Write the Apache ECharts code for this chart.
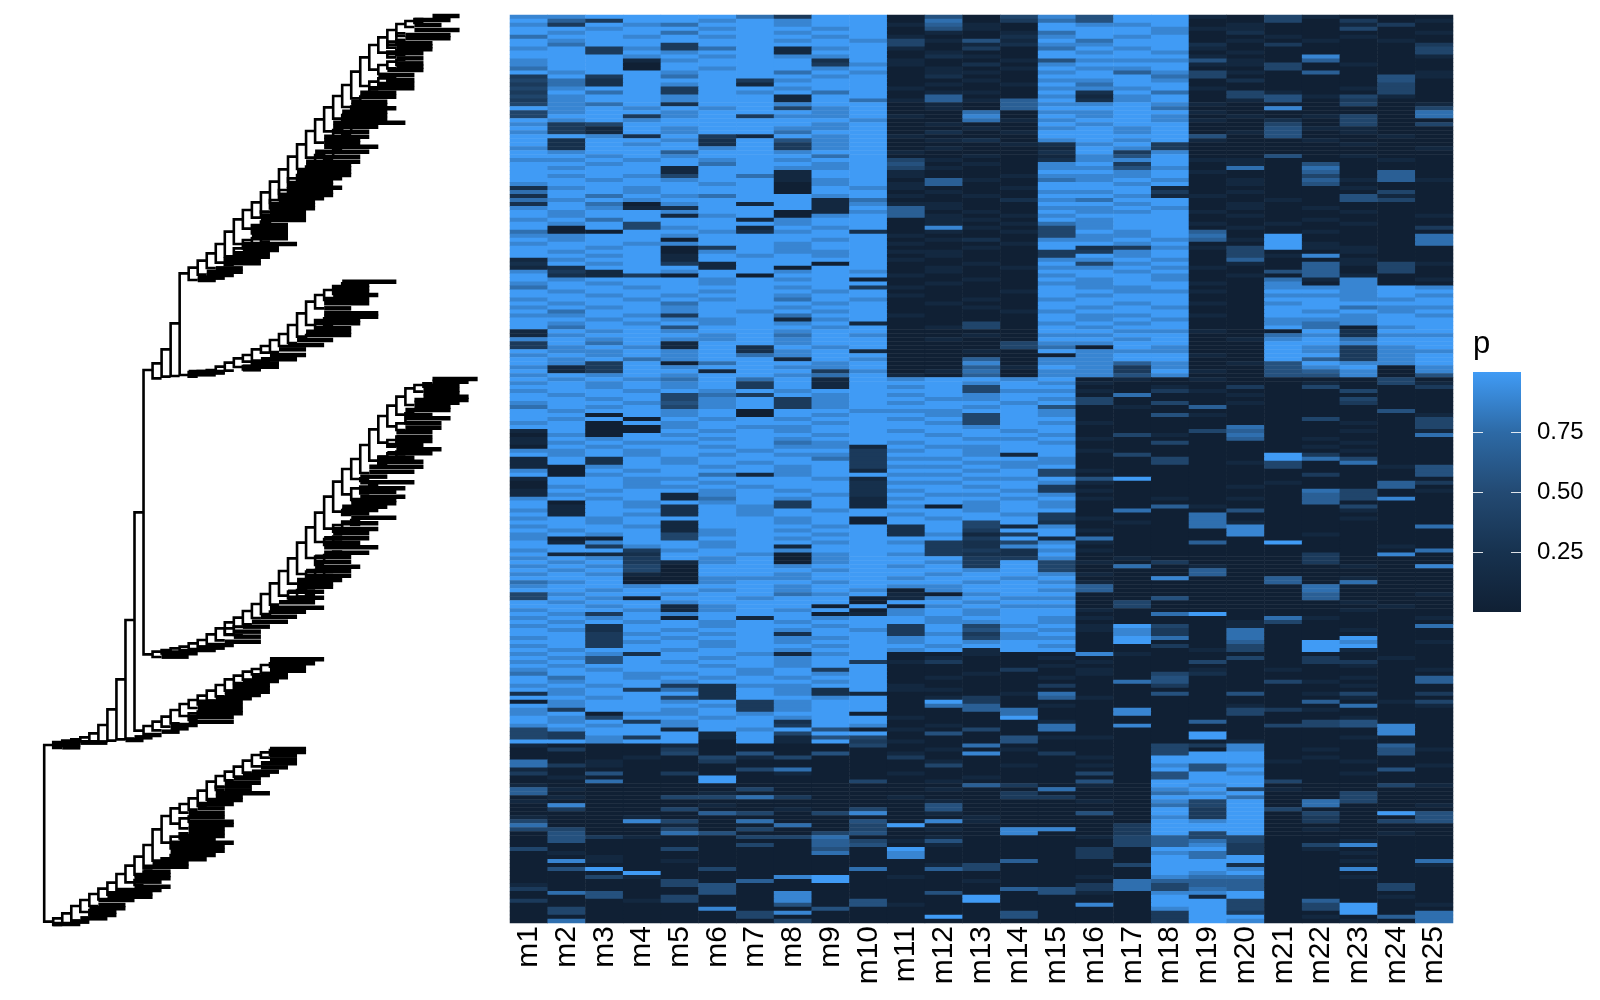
<!DOCTYPE html>
<html><head><meta charset="utf-8">
<style>html,body{margin:0;padding:0;background:#fff}#c{width:1600px;height:1000px}</style>
<script src="https://cdn.jsdelivr.net/npm/echarts@6/dist/echarts.min.js"></script>
</head><body><div id="c"></div>
<script>
const columns=['m1','m2','m3','m4','m5','m6','m7','m8','m9','m10','m11','m12','m13','m14','m15','m16','m17','m18','m19','m20','m21','m22','m23','m24','m25'];
const legendTicks=[0.25,0.5,0.75];
// p per row, one digit per column (0 = p about 0, 9 = p about 1)
const rowsA=[
"8899997399 0504 8599 1041000","9639989899 0703 7599 0040301","8398799899 1610 9889 0100130","9989989989 0510 9998 1100400",
"9899799899 0101 7998 0200001","7998989989 1002 8989 0010100","9899999898 4151 9799 0101010","9799399999 4012 8899 2030003",
"8938379189 1030 7989 1000004","9939899199 0100 9898 0100004","9998989889 0210 9999 1008001","8991899929 1001 5888 5106000",
"8990999938 1020 8999 1140100","7990989989 0101 9889 0040000","9899899798 0110 8968 4106001","3939799989 0200 9997 4000051",
"4729993899 0010 8898 0200050","3729891999 0101 9799 0000040","4899399899 1000 8889 1000140","3979398979 0110 9297 0410040",
"4899899199 0600 8189 0451410","3899899197 1616 9289 0150300","4879299899 0106 8898 1000401","9898989489 0106 9997 0080004",
"4899899989 0070 8899 1000007","4993893889 1080 9898 0101407","9898999998 0071 8998 1020400","8349999989 0100 9899 0040404",
"9319899889 0010 8989 0051100","8319899799 0201 9989 0150100","9982931989 1000 9999 5050010","9299829589 0120 8989 1001000",
"9298929389 0001 2893 0000100","8299989389 0100 1983 0000001","9899699899 1000 2938 0000000","9989899979 0010 1859 0050100",
"8898989899 4100 2889 1100010","9989979989 5010 8939 0105000","9899199889 4100 8858 0707000","9999199199 1000 9989 1006060",
"9898497199 1001 8889 0004060","9989899189 0610 7898 0106161","8999989089 1600 9989 0105000","2898999098 1001 9991 0000100",
"7998999099 0100 8893 0100040","2979879989 1010 9981 1000510","7898999917 0002 8799 0010540","2970891918 1100 9989 0100000",
"8981299919 6100 8898 0101000","9899899018 6010 9889 1000100","9899189089 6101 8999 0100001","8979991899 0110 9899 0001000",
"9894999899 0101 7899 1010100","9094891989 0810 4899 0100003","7009982892 0101 4989 6001000","8899899999 1000 4889 7090007",
"9899099989 0120 8898 6190007","8998899899 1001 9989 0091007","9989039899 0010 9238 1491100","9899089889 1100 3389 0400100",
"9989198989 0100 3989 0418000","1899199999 1000 8898 0600100","2989319909 0010 9489 0106141","1299919099 0101 8898 1006040",
"8319899898 0100 9989 0056040","9213090999 1000 8998 0106100","9899989890 0010 9898 0071801","8989989999 0100 8899 1080800",
"7998999893 1000 9889 0088898"];
const rowsA2=[
"9899989989 0001 9988 1099899","9989899899 1000 9899 0088898","8998989798 0010 8999 0099889","9899799989 0100 9989 1089999",
"8989899899 0010 9898 0099788","9799898989 0001 8999 0098989","8898399799 1000 9889 1099898","9989889189 0000 9898 0088899",
"9898989891 0040 8989 0087899","9799599989 0140 9899 0097089","1989899899 0000 9988 1009299","1899989798 0010 8899 0078288",
"8989889899 0100 9989 0189799","3979199899 0004 8899 0099899","3898192989 0004 7098 0098389","9889892891 0010 9888 0098388",
"8989897899 0000 0899 1099389","9897899198 0060 8899 0096389","9839079989 0080 8868 0159889","8139899889 0061 9838 0058908",
"9139919938 0170 8839 1056808","8989899879 1060 8858 0055805"];
const rowsB=[
"9898797919 8998 9010 1000040","8989893919 9989 8100 0001041","9989893919 8949 9001 0304003","8998989899 9948 8103 1000400",
"9899473989 8989 9070 0100000","9989489389 9889 8400 0000400","8998589389 8998 9404 0100300","7989489389 9989 5010 6000000",
"9899890998 8899 8000 0000050","9909890989 9849 8005 1000001","9890989899 8949 9000 0004004","8909899989 9849 8100 0000104",
"9900898899 9989 9000 0700004","1900989899 8998 9000 4600101","0809899989 9899 8041 0700007","1989989899 9988 9100 0601000",
"1898899789 8999 8004 0000100","0989989881 9889 9000 0001000","8898998993 8989 9100 0000100","9898989883 9981 9040 0093000",
"1929899973 8899 8004 0097400","1929898993 9988 8004 0140700","1089989893 8898 9000 0040015","8098999891 9989 4100 0000005",
"9089971899 8899 4000 0003005","1998899981 9988 9590 0000000","0998989992 8899 8100 0010063","0898898992 9989 3000 0100060",
"1989989892 8998 3100 0007401","1899189982 9889 8000 0006400","8989179891 8998 9101 0106480","9098989391 9989 8000 0006000",
"9198298391 8089 8006 1000400","8199298989 9989 9070 0500100","9198298999 8998 3000 7000000","8989999890 9899 3100 7000100",
"9989199890 9949 2010 7100000","8998199989 2941 8000 7800007","9899189899 2939 9100 0800000","8989489989 2813 9000 0801000",
"8009499899 9939 1700 0000000","9189989989 8324 8100 6090000","9938989199 9328 9000 0000010","8993899899 9332 8100 0000007",
"9112998089 8322 9000 0003080","8983989089 9933 8010 0003000","9893189089 9839 4103 0003000","8984099899 8939 4070 1000108",
"9894099989 9989 4000 6000000","8981099899 9899 8100 6000000","9990088899 8998 9008 0060100","7890089989 9989 8100 0060700",
"8998999899 8899 9600 0007000","9989989898 0899 8600 0007000","4899899789 1089 9000 0006001","4980998990 1898 8005 0006000",
"9899899990 9989 9040 0000100","9989189909 0898 8040 0000010","8998189890 8989 9100 0000100","9839899901 8989 9007 9000000",
"8989091989 9899 8100 0071001","9898989899 9889 8000 0140000","8929989989 3948 9194 0100007","9829899898 3959 8183 0700100",
"9938989299 3838 9083 0700000","8939899889 8948 8097 0700900","9938989899 8989 9090 0609801","8939989989 9899 8003 0409900",
"9899899899 8919 9000 1409100"];
const rowsC=[
"8982998189 0010 0810 0000000","9859989899 0100 1000 0403010","8959899893 1300 0100 4003300","9899989899 0000 1000 0000100",
"8989998939 0003 0100 1010001","7998898989 0010 0104 2000000","9798989899 0100 1005 0000106","9899899989 0000 0075 0041006",
"8989328899 1000 3003 0000100","9893729829 1100 0000 0000000","2899929821 0001 7005 0501403","9989429989 0130 6100 0000100",
"0899893899 0930 0000 0006014","9899983899 0760 1000 0100701","8399893899 0067 0080 0431000","8908898990 0007 0080 0400000",
"9849989899 1009 0000 0000100","9893899299 0000 1000 6004500","8989899398 0100 7080 0044580","4899198950 1040 7000 0000080",
"4399919499 0500 0000 9000080","4383919154 0005 1100 9000100","9989909193 1005 0000 0100000"];
const rowsD=[
"1000100004 0070 0004 3800060","0300300000 0101 0004 0801051","0000405050 1080 3004 9900050","0001041400 3000 0109 9901000",
"7010030000 0100 0009 9910100","7310000000 0401 0108 5800001","1000004700 0000 0009 5900050","3050300100 1000 0405 9800100",
"0100090000 0010 0005 9900000","0070090004 0100 0509 9940000","1000000000 0063 0109 8900041","6100004000 0100 7008 9410000",
"6000010000 0003 0007 8900400","0100447300 1003 3009 9700400","1000000000 0100 0108 4907400","0800010000 0500 0007 4907001",
"0300400104 0500 0009 3940000","0000064048 0100 0509 3904095","1001000000 0010 0008 3903005","4008407005 0810 0009 8903045",
"7000100704 9000 0039 9900000","4400404004 0108 8039 9901000","0500750045 0008 0039 4900010","0531004470 0100 0146 4400000",
"0500000064 1500 0046 7400100","0000004065 0100 0046 8304800","4000400050 9000 0309 9301000","0100000070 8000 0308 7300100",
"0010000000 8000 0309 7900000","0810100000 0006 0009 9900107","0000000000 0140 0049 9200001","0590040007 0640 0009 9800800",
"0009000000 0000 0009 8900000","0041000890 1000 0108 7700100","0000406090 0010 0076 6600000","1000450000 0000 0374 6600040",
"3000050000 0006 5374 7600040","0750050800 0500 5108 8900000","0050400800 0090 0009 1900010","3001400805 0090 0009 9406000",
"0000000505 1000 0809 9404901","0400080050 0000 0008 9404900","0400004800 0005 0003 9300907","0000004000 0905 0003 9901067",
"0700000400 0000 0003 9800107"];
// dendrogram: merges are [depth, upper leaf position, lower leaf position]
const mergesRoot=[[0,2235,2765],[1,2226,2244],[2,2222,2230],[3,2218,2226],[4,2212,2224],[5,2200,2224],[6,2175,2225],[7,2128,2222],[8,2038,2218],[9,1860,2216],[10,1537,2192],[11,1110,1963],[12,1090,1135],[13,1048,1130],[14,970,1128],[15,820,1125]];
const merges1=[[16,803,840],[17,782,824],[18,760,804],[19,732,788],[20,695,769],[21,658,732],[22,630,686],[23,607,653],[24,577,637],[25,545,609],[26,508,582],[27,470,546],[28,433,507],[29,393,473],[30,358,428],[31,322,394],[32,288,356],[33,255,321],[34,215,295],[35,172,258],[36,135,209],[37,112,158],[38,90,134],[39,72,108],[40,63,81],[41,57,69],
[39,100,120],[38,125,143],[39,120,135],[38,155,172],[39,150,165],[37,195,222],[38,185,205],[39,180,195],[36,245,275],[37,235,255],[38,230,245],[35,290,325],[34,320,340],[33,345,360],[34,340,352],[32,390,430],[33,380,405],[34,375,395],[30,465,490],[31,455,480],[32,450,470],[29,500,520],[27,535,560],[28,525,550],[29,520,540],[26,570,600],[25,600,625],[27,565,590],[24,635,650],[23,675,700],[24,665,690],[25,660,680],[22,720,745],[23,715,735],[24,710,725],[21,745,770],[20,775,795]];
const merges2=[[16,1116,1130],[17,1113,1120],[18,1110,1116],[19,1100,1120],[20,1088,1112],[21,1075,1101],[22,1065,1085],[23,1048,1082],[24,1038,1058],[25,1020,1056],[26,1002,1038],[27,975,1029],[28,940,1010],[29,905,975],[30,885,925],[31,870,900],[32,858,882],[33,850,866],
[30,960,990],[31,955,975],[32,950,965],[29,1005,1020],[23,1090,1108],[22,1098,1108],[24,1085,1100]];
const merges3=[[12,1955,1971],[13,1950,1960],[14,1945,1955],[15,1940,1950],[16,1930,1950],[17,1920,1940],[18,1903,1937],[19,1885,1921],[20,1867,1903],[21,1853,1881],[22,1833,1873],[23,1812,1854],[24,1782,1842],[25,1750,1814],[26,1713,1787],[27,1675,1751],[28,1628,1722],[29,1582,1674],[30,1538,1626],[31,1490,1586],[32,1445,1535],[33,1407,1483],[34,1377,1437],[35,1335,1419],[36,1288,1382],[37,1248,1328],[38,1217,1279],[39,1190,1244],[40,1165,1215],[41,1155,1175],[42,1150,1160],
[39,1270,1290],[40,1240,1270],[38,1320,1340],[39,1310,1330],[37,1370,1395],[38,1360,1385],[39,1355,1370],[35,1435,1443],[34,1465,1500],[35,1460,1480],[36,1455,1470],[33,1530,1545],[34,1525,1540],[32,1575,1595],[33,1565,1585],[34,1560,1575],[31,1617,1635],[32,1610,1625],[30,1670,1695],[31,1665,1685],[32,1655,1670],[29,1715,1745],[30,1710,1735],[31,1700,1725],[27,1775,1795],[28,1770,1790],[29,1765,1785],[25,1835,1850],[20,1885,1905],[21,1880,1905]];
const merges4=[[11,2178,2206],[12,2165,2191],[13,2150,2180],[14,2130,2170],[15,2112,2148],[16,2100,2124],[17,2087,2113],[18,2072,2102],[19,2055,2089],[20,2038,2072],[21,2027,2049],[22,2015,2039],[23,2007,2023],[24,1995,2019],[25,1990,2000],
[16,2140,2160],[17,2135,2150],[21,2055,2075],[22,2050,2065]];
const merges5=[[1,2755,2775],[2,2740,2770],[3,2718,2762],[4,2700,2736],[5,2682,2718],[6,2666,2698],[7,2648,2684],[8,2622,2674],[9,2597,2647],[10,2570,2624],[11,2535,2605],[12,2488,2582],[13,2448,2528],[14,2425,2471],[15,2412,2438],[16,2395,2429],[17,2372,2418],[18,2345,2399],[19,2328,2362],[20,2315,2341],[21,2300,2330],[22,2282,2318],[23,2265,2299],[24,2257,2273],[25,2250,2264],
[14,2510,2545],[15,2500,2515],[15,2535,2550],[13,2575,2590],[14,2565,2585],[15,2455,2485],[16,2450,2465],[11,2615,2635],[10,2640,2655],[5,2730,2745],[6,2725,2740],[19,2360,2370]];
// dense leaf runs: [leaf position, from depth, to depth]
const leaves1=[[48,43,46],[60,41,45],[75,41,44],[90,41,46],[105,40,45],[115,40,45],[130,39,43],[139,39,43],[148,39,43],[160,38,42],[175,39,42],[190,39,42],[200,39,42],[210,38,42],[225,37,41],[240,38,41],[252,37,41],[265,36,41],[278,35,39],[290,35,39],[305,34,38],[315,34,38],[325,34,39],[335,33,38],[345,33,38],[357,33,38],[368,32,40],[380,32,37],[395,32,36],[410,31,36],[420,31,35],[430,31,35],[440,31,37],[455,30,36],[470,30,35],[485,29,35],[495,29,34],[505,29,34],[515,28,34],[525,28,34],[535,28,33],[545,28,32],[554,27,32],[563,27,33],[575,27,32],[585,26,32],[595,26,31],[605,26,30],[615,25,30],[625,25,30],[635,25,29],[648,24,29],[660,24,29],[675,24,27],[685,23,27],[695,23,27],[705,23,27],[715,23,27],[732,22,28],[741,22,26],[750,22,26],[760,21,25],[770,21,25],[780,20,24],[790,20,24],[805,19,22],[815,18,22],[825,18,21],[833,17,20],[840,17,19]];
const leaves2=[[845,33,39],[855,33,36],[865,32,36],[875,32,36],[885,32,37],[897,31,36],[910,31,36],[925,31,34],[940,31,37],[950,31,37],[960,31,35],[970,30,35],[985,30,34],[995,29,34],[1005,29,34],[1020,28,32],[1035,27,31],[1048,26,29],[1065,25,29],[1078,24,28],[1090,23,26],[1100,22,26],[1108,22,24],[1116,16,20],[1123,16,19]];
const leaves3=[[1137,43,48],[1145,43,47],[1157,42,46],[1170,42,46],[1180,42,46],[1190,42,47],[1200,41,47],[1208,41,46],[1220,41,45],[1230,40,45],[1245,40,43],[1255,40,45],[1270,40,44],[1283,40,44],[1295,39,43],[1310,39,43],[1323,39,43],[1335,38,42],[1348,39,44],[1360,38,43],[1373,37,41],[1385,37,42],[1400,36,42],[1415,36,41],[1430,35,38],[1447,35,41],[1465,35,40],[1475,35,39],[1490,35,40],[1500,34,39],[1510,34,39],[1520,33,38],[1530,33,37],[1540,33,36],[1553,34,39],[1570,33,37],[1587,32,37],[1600,32,36],[1615,31,36],[1628,31,35],[1642,31,37],[1658,31,36],[1670,30,34],[1685,30,34],[1700,30,35],[1713,29,34],[1727,29,34],[1740,28,33],[1750,28,32],[1760,28,32],[1775,27,31],[1793,27,31],[1807,26,30],[1823,25,31],[1835,25,29],[1850,24,28],[1865,23,27],[1880,22,25],[1895,21,24],[1910,21,24],[1925,20,24],[1935,18,21],[1943,17,20],[1950,16,19],[1960,13,17],[1970,13,16]];
const leaves4=[[1978,25,31],[1990,25,30],[2000,25,29],[2012,25,29],[2022,24,27],[2032,23,27],[2043,22,26],[2055,21,25],[2065,21,25],[2075,20,25],[2085,20,24],[2095,19,23],[2105,17,22],[2118,17,22],[2130,17,22],[2140,17,22],[2150,16,21],[2165,16,21],[2175,14,17],[2185,14,16],[2195,13,15],[2205,11,13],[2212,10,12],[2220,9,11],[2228,4,7],[2235,1,4],[2242,2,4]];
const leaves5=[[2247,25,29],[2256,25,29],[2265,25,28],[2278,25,28],[2290,24,28],[2302,24,27],[2315,23,26],[2325,22,25],[2335,21,24],[2348,20,24],[2360,20,23],[2372,20,23],[2380,19,25],[2390,19,22],[2400,18,22],[2412,17,21],[2425,17,20],[2440,16,20],[2452,16,20],[2465,16,21],[2475,16,21],[2485,16,20],[2497,16,20],[2508,15,20],[2518,15,19],[2528,14,21],[2540,14,20],[2552,14,20],[2565,14,19],[2578,13,18],[2590,12,16],[2600,11,16],[2615,11,14],[2625,10,14],[2635,10,14],[2645,10,13],[2660,10,14],[2670,8,13],[2680,7,12],[2690,7,12],[2700,6,10],[2715,6,9],[2725,5,9],[2735,5,8],[2745,5,8],[2755,4,7],[2765,3,5],[2772,1,4]];

const rows=[].concat(rowsA,rowsA2,rowsB,rowsC,rowsD);
const rowIds=rows.map((_,i)=>i);
const heat=[];
rows.forEach((r,y)=>{const s=r.replace(/ /g,'');columns.forEach((_,x)=>{heat.push([x,y,Number(s[x]||0)/9]);});});
const merges=[].concat(mergesRoot,merges1,merges2,merges3,merges4,merges5);
const leaves=[].concat(leaves1,leaves2,leaves3,leaves4,leaves5);
const mergeLines=merges.map(m=>({coords:[[m[0]+1,m[1]],[m[0],m[1]],[m[0],m[2]],[m[0]+1,m[2]]]}));
const leafLines=leaves.map(l=>({coords:[[l[1],l[0]],[l[2],l[0]]]}));

const font='"Liberation Sans",Arial,Helvetica,sans-serif';
const ramp=['#102034','#17324f','#234a73','#2d6aa6','#409bf5'];
const chart=echarts.init(document.getElementById('c'),null,{renderer:'canvas',width:1600,height:1000});
chart.setOption({
 animation:false,backgroundColor:'#fff',
 title:{text:'p',left:1473,top:329,padding:0,textStyle:{fontFamily:font,fontSize:31,fontWeight:'normal',color:'#000'}},
 graphic:[{type:'rect',z:1,silent:true,shape:{x:1473,y:372,width:48,height:240},
  style:{fill:new echarts.graphic.LinearGradient(0,1,0,0,ramp.map((c,i)=>({offset:i/(ramp.length-1),color:c})))}}],
 grid:[
  {left:510,top:15,width:943,height:908,outerBoundsMode:'none'},
  {left:44.2,top:0,width:451.5,height:1000,outerBoundsMode:'none'},
  {left:1473,top:372,width:48,height:240,outerBoundsMode:'none',z:20}
 ],
 xAxis:[
  {gridIndex:0,type:'category',data:columns,position:'bottom',axisLine:{show:false},splitLine:{show:false},
   axisTick:{alignWithLabel:true,length:2,lineStyle:{color:'#333'}},
   axisLabel:{interval:0,rotate:90,margin:3,fontFamily:font,fontSize:30,color:'#000'}},
  {gridIndex:1,type:'value',min:0,max:50,show:false},
  {gridIndex:2,type:'value',min:0,max:1,show:false}
 ],
 yAxis:[
  {gridIndex:0,type:'category',data:rowIds,inverse:true,show:false},
  {gridIndex:1,type:'value',min:0,max:3000,inverse:true,show:false},
  {gridIndex:2,type:'value',min:0,max:1,position:'left',z:20,axisLine:{show:false},splitLine:{show:false},axisLabel:{show:false},
   axisTick:{show:true,inside:true,length:10,customValues:legendTicks,lineStyle:{color:'rgba(255,255,255,0.85)',width:1}}},
  {gridIndex:2,type:'value',min:0,max:1,position:'right',z:20,axisLine:{show:false},splitLine:{show:false},
   axisTick:{show:true,inside:true,length:10,customValues:legendTicks,lineStyle:{color:'rgba(255,255,255,0.85)',width:1}},
   axisLabel:{show:true,inside:false,margin:16,padding:[7,0,0,0],customValues:legendTicks,formatter:v=>v.toFixed(2),fontFamily:font,fontSize:24,color:'#000'}}
 ],
 visualMap:{type:'continuous',seriesIndex:0,min:0,max:1,show:false,inRange:{color:ramp}},
 series:[
  {type:'heatmap',xAxisIndex:0,yAxisIndex:0,data:heat,progressive:0,silent:true,itemStyle:{borderWidth:0}},
  {type:'lines',coordinateSystem:'cartesian2d',xAxisIndex:1,yAxisIndex:1,polyline:true,silent:true,data:mergeLines,
   lineStyle:{color:'#000',width:2.6,opacity:1,join:'miter'}},
  {type:'lines',coordinateSystem:'cartesian2d',xAxisIndex:1,yAxisIndex:1,polyline:true,silent:true,data:leafLines,
   lineStyle:{color:'#000',width:4.5,opacity:1}}
 ]
});
</script></body></html>
